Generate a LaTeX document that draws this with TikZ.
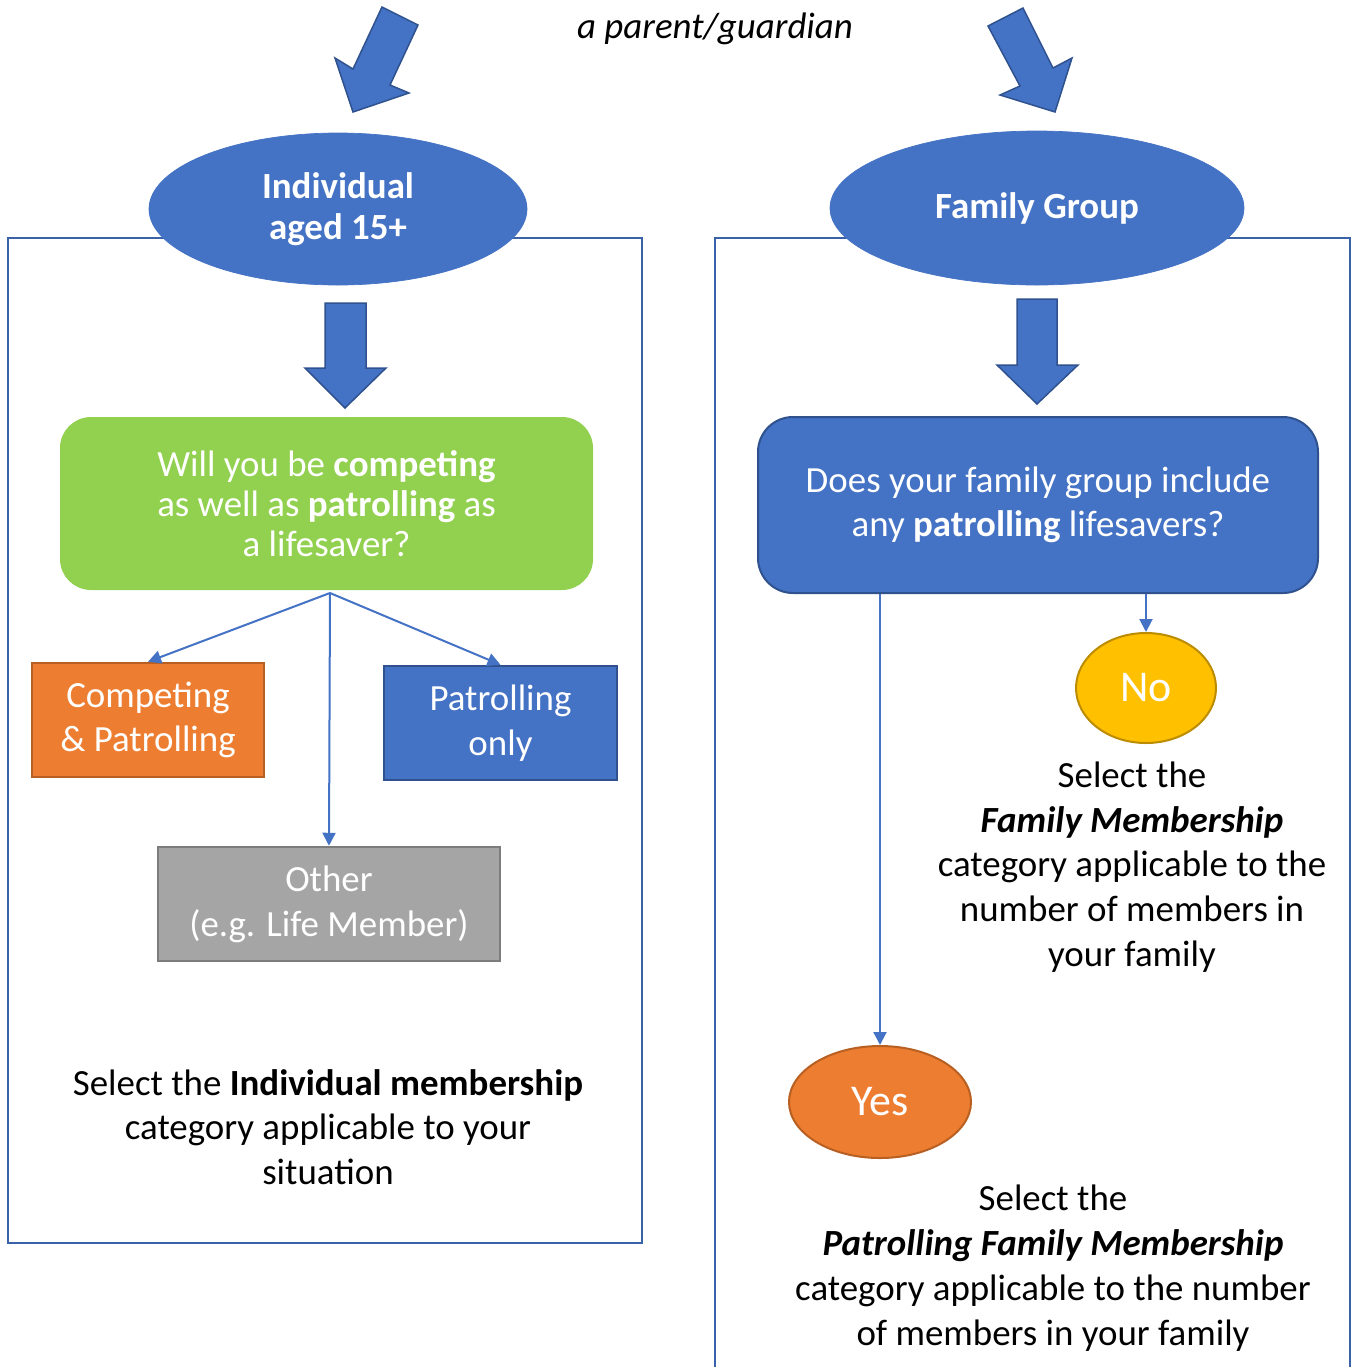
\documentclass[tikz,border=0pt]{standalone}
\usepackage{fontspec}
\setmainfont{Carlito}
\usepackage{xcolor}
\usepackage{tikz}
\usetikzlibrary{shapes.geometric,arrows.meta,positioning}
\definecolor{mblue}{HTML}{4472C4}
\definecolor{mdarkblue}{HTML}{2F528F}
\definecolor{mframe}{HTML}{3A62AA}
\definecolor{mgreen}{HTML}{92D050}
\definecolor{morange}{HTML}{ED7D31}
\definecolor{mdarkorange}{HTML}{B85F22}
\definecolor{mgrey}{HTML}{A5A5A5}
\definecolor{mdarkgrey}{HTML}{7C7C7C}
\definecolor{mgold}{HTML}{FFC000}
\definecolor{mdarkgold}{HTML}{BC8C00}
\newdimen\unitpx \unitpx=0.02cm
\tikzset{
  frameline/.style={draw=mframe,line width=2.2\unitpx},
  bigarrow/.style={fill=mblue,draw=mdarkblue,line width=1.5\unitpx,line join=miter},
  oval/.style={ellipse,fill=mblue,draw=mblue,text=white,inner sep=0pt,align=center,font=\fontsize{21}{23.2}\selectfont\bfseries},
  roundbox/.style={rectangle,line width=2\unitpx,text=white,align=center,font=\fontsize{21}{22.7}\selectfont},
  choicebox/.style={rectangle,line width=2.5\unitpx,text=white,align=center,font=\fontsize{21}{25.5}\selectfont},
  answer/.style={ellipse,line width=2\unitpx,text=white,inner sep=0pt,font=\fontsize{25}{30}\selectfont},
  note/.style={align=center,font=\fontsize{21}{25.5}\selectfont},
  link/.style={draw=mblue,line width=2\unitpx,-{Triangle[width=7.4pt,length=7.4pt]}}
}
\begin{document}
\begin{tikzpicture}[x=0.02cm,y=-0.02cm]
  \useasboundingbox (0,0) rectangle (1359,1367);
  % the two frames
  \draw[frameline] (8,238) rectangle (642,1243);
  \draw[frameline] (715,1367) -- (715,238) -- (1350,238) -- (1350,1367);
  % top
  \node[font=\fontsize{21}{25.5}\selectfont\itshape] (who) at (715,29) {a parent/guardian};
  \draw[bigarrow] (382,7) -- (418,25) -- (390,85) -- (409,93) -- (353,112) -- (335,58) -- (353,69) -- cycle;
  \draw[bigarrow] (988,26) -- (1023,8) -- (1053,68) -- (1072,58) -- (1055,112) -- (1000,95) -- (1020,86) -- cycle;
  % headings
  \node[oval,minimum width=378\unitpx,minimum height=152\unitpx] (indiv) at (338,209) {Individual\\aged 15+};
  \node[oval,minimum width=414\unitpx,minimum height=154\unitpx] (family) at (1037,208) {Family Group};
  \draw[bigarrow] (325,303) -- (366,303) -- (366,368) -- (386,368) -- (345,408) -- (305,368) -- (325,368) -- cycle;
  \draw[bigarrow] (1017,299) -- (1057,299) -- (1057,365) -- (1078,365) -- (1037,404) -- (997,365) -- (1017,365) -- cycle;
  % left column
  \node[roundbox,fill=mgreen,draw=mgreen,rounded corners=30\unitpx,minimum width=531\unitpx,minimum height=171\unitpx] (compq) at (326.5,503.5) {Will you be \textbf{competing}\\as well as \textbf{patrolling} as\\a lifesaver?};
  \node[choicebox,fill=morange,draw=mdarkorange,minimum width=232\unitpx,minimum height=114\unitpx] (both) at (148,720) {Competing\\\& Patrolling};
  \node[choicebox,fill=mblue,draw=mdarkblue,minimum width=233\unitpx,minimum height=114\unitpx] (patrol) at (500.5,723) {Patrolling\\only};
  \node[choicebox,fill=mgrey,draw=mdarkgrey,minimum width=342\unitpx,minimum height=114\unitpx] (other) at (329,904) {Other\\(e.g. Life Member)};
  \coordinate (fork) at (330,593);
  \draw[link] (fork) -- (both.north);
  \draw[link] (fork) -- (patrol.north);
  \draw[link] (fork) -- (other.north);
  \node[note] (indivnote) at (328,1127) {Select the \textbf{Individual membership}\\category applicable to your\\situation};
  % right column
  \node[roundbox,fill=mblue,draw=mdarkblue,rounded corners=35\unitpx,minimum width=560\unitpx,minimum height=176\unitpx,font=\fontsize{21}{25.2}\selectfont] (famq) at (1038,505) {Does your family group include\\any \textbf{patrolling} lifesavers?};
  \node[answer,fill=mgold,draw=mdarkgold,minimum width=140\unitpx,minimum height=110\unitpx] (no) at (1146,688) {No};
  \node[answer,fill=morange,draw=mdarkorange,minimum width=182\unitpx,minimum height=112\unitpx] (yes) at (880,1102) {Yes};
  \draw[link] (famq.south -| no.north) -- (no.north);
  \draw[link] (famq.south -| yes.north) -- (yes.north);
  \node[note] (nonote) at (1132,867) {Select the\\\textbf{\textit{Family Membership}}\\category applicable to the\\number of members in\\your family};
  \node[note] (yesnote) at (1053,1268) {Select the\\\textbf{\textit{Patrolling Family Membership}}\\category applicable to the number\\of members in your family};
\end{tikzpicture}
\end{document}
